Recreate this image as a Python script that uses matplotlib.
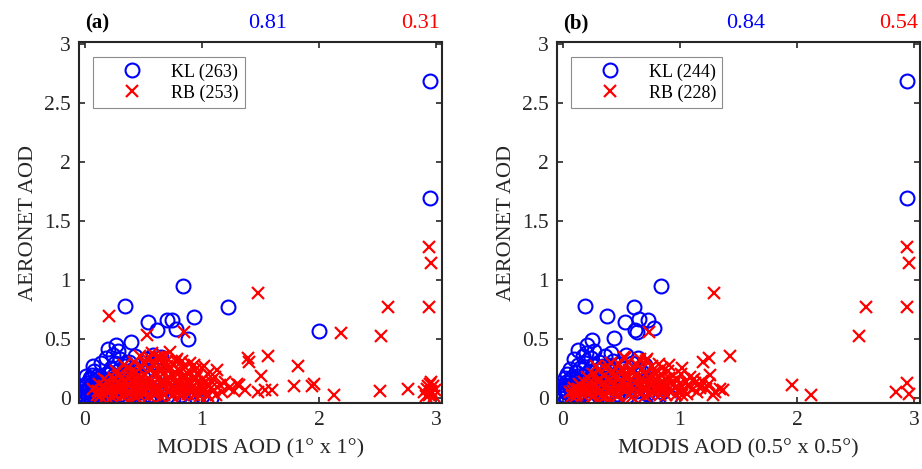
import matplotlib
matplotlib.use('Agg')
import matplotlib.pyplot as plt

plt.rcParams['font.family'] = ['Liberation Serif', 'DejaVu Serif']

# ---- data ----
# panel (a): 1 deg x 1 deg
kl_a = [(0.00, 0.02), (0.01, 0.05), (0.02, 0.08), (0.03, 0.03), (0.04, 0.10), (0.05, 0.06), (0.06, 0.12),
        (0.07, 0.02), (0.08, 0.08), (0.09, 0.15), (0.10, 0.04), (0.11, 0.11), (0.12, 0.07), (0.13, 0.18),
        (0.14, 0.02), (0.15, 0.09), (0.02, 0.13), (0.04, 0.17), (0.06, 0.20), (0.08, 0.23), (0.10, 0.19),
        (0.12, 0.14), (0.03, 0.00), (0.05, 0.01), (0.09, 0.00), (0.16, 0.05), (0.17, 0.13), (0.18, 0.21),
        (0.19, 0.03), (0.20, 0.10), (0.21, 0.16), (0.22, 0.26), (0.23, 0.06), (0.24, 0.12), (0.25, 0.20),
        (0.26, 0.30), (0.27, 0.08), (0.28, 0.15), (0.29, 0.24), (0.30, 0.33), (0.31, 0.04), (0.32, 0.11),
        (0.33, 0.19), (0.34, 0.27), (0.35, 0.07), (0.36, 0.14), (0.37, 0.22), (0.38, 0.31), (0.39, 0.03),
        (0.40, 0.17), (0.41, 0.25), (0.42, 0.09), (0.43, 0.36), (0.44, 0.20), (0.45, 0.00), (0.46, 0.13),
        (0.47, 0.28), (0.48, 0.05), (0.50, 0.18), (0.52, 0.33), (0.53, 0.10), (0.55, 0.24), (0.56, 0.03),
        (0.58, 0.37), (0.60, 0.15), (0.62, 0.30), (0.63, 0.07), (0.65, 0.35), (0.67, 0.20), (0.70, 0.02),
        (0.72, 0.12), (0.75, 0.00), (0.78, 0.06), (0.82, 0.03), (0.90, 0.05), (1.00, 0.02), (1.08, 0.00),
        (0.14, 0.30), (0.18, 0.34), (0.24, 0.37), (0.28, 0.40), (0.07, 0.27), (0.01, 0.19),
        (0.01, 0.11), (0.03, 0.07), (0.05, 0.16), (0.07, 0.05), (0.09, 0.10), (0.11, 0.02), (0.13, 0.06),
        (0.15, 0.14), (0.17, 0.01), (0.19, 0.08), (0.21, 0.22), (0.23, 0.14), (0.26, 0.04), (0.31, 0.20),
        (0.35, 0.30), (0.40, 0.05), (0.50, 0.01), (0.60, 0.01), (0.65, 0.04), (0.95, 0.01),
        (0.20, 0.42), (0.27, 0.45), (0.34, 0.78), (0.39, 0.48), (0.54, 0.65), (0.62, 0.58), (0.70, 0.66),
        (0.74, 0.66), (0.78, 0.59), (0.84, 0.95), (0.88, 0.50), (0.93, 0.69), (1.22, 0.77), (2.00, 0.57),
        (2.95, 1.70), (2.95, 2.69)]

rb_a = [(0.07, 0.08), (0.10, 0.03), (0.12, 0.12), (0.14, 0.06), (0.16, 0.10), (0.18, 0.02), (0.19, 0.15),
        (0.21, 0.07), (0.22, 0.11), (0.24, 0.04), (0.25, 0.17), (0.26, 0.09), (0.28, 0.13), (0.29, 0.05),
        (0.30, 0.21), (0.31, 0.10), (0.32, 0.02), (0.33, 0.15), (0.35, 0.08), (0.36, 0.26), (0.37, 0.12),
        (0.38, 0.04), (0.39, 0.19), (0.40, 0.09), (0.41, 0.14), (0.42, 0.31), (0.43, 0.06), (0.44, 0.22),
        (0.45, 0.11), (0.46, 0.03), (0.47, 0.17), (0.48, 0.27), (0.49, 0.08), (0.50, 0.13), (0.51, 0.20),
        (0.52, 0.05), (0.53, 0.33), (0.54, 0.10), (0.55, 0.16), (0.56, 0.24), (0.57, 0.07), (0.58, 0.29),
        (0.59, 0.12), (0.60, 0.03), (0.61, 0.19), (0.62, 0.35), (0.63, 0.09), (0.64, 0.14), (0.65, 0.26),
        (0.66, 0.05), (0.67, 0.21), (0.68, 0.11), (0.69, 0.31), (0.70, 0.16), (0.71, 0.07), (0.72, 0.24),
        (0.73, 0.13), (0.74, 0.02), (0.75, 0.19), (0.76, 0.28), (0.77, 0.09), (0.78, 0.15), (0.79, 0.33),
        (0.80, 0.06), (0.81, 0.22), (0.82, 0.12), (0.83, 0.18), (0.84, 0.04), (0.85, 0.27), (0.86, 0.10),
        (0.87, 0.15), (0.88, 0.21), (0.89, 0.07), (0.90, 0.30), (0.91, 0.12), (0.92, 0.17), (0.93, 0.03),
        (0.94, 0.24), (0.95, 0.09), (0.96, 0.14), (0.97, 0.20), (0.98, 0.06), (0.99, 0.11), (1.00, 0.26),
        (1.01, 0.16), (1.02, 0.08), (1.03, 0.13), (1.04, 0.04), (1.05, 0.21), (1.06, 0.10), (1.08, 0.15),
        (1.10, 0.07), (1.11, 0.18), (1.13, 0.24), (1.15, 0.11), (1.17, 0.05), (1.20, 0.14), (1.23, 0.09),
        (1.27, 0.06), (1.30, 0.12), (0.23, 0.01), (0.34, 0.03), (0.44, 0.01), (0.55, 0.02), (0.65, 0.01),
        (0.27, 0.23), (0.33, 0.28), (0.47, 0.36), (0.57, 0.38), (0.67, 0.36), (0.73, 0.39), (0.83, 0.32),
        (0.93, 0.28), (0.78, 0.32), (0.56, 0.34), (0.64, 0.35), (1.02, 0.27),
        (0.13, 0.02), (0.17, 0.07), (0.20, 0.13), (0.23, 0.09), (0.27, 0.03), (0.30, 0.07), (0.32, 0.18),
        (0.36, 0.05), (0.38, 0.16), (0.40, 0.23), (0.42, 0.02), (0.45, 0.07), (0.47, 0.12), (0.50, 0.04),
        (0.51, 0.29), (0.53, 0.15), (0.56, 0.10), (0.58, 0.05), (0.60, 0.22), (0.62, 0.06), (0.63, 0.17),
        (0.66, 0.13), (0.68, 0.03), (0.70, 0.27), (0.71, 0.11), (0.74, 0.08), (0.76, 0.04), (0.77, 0.22),
        (0.79, 0.12), (0.81, 0.03), (0.84, 0.09), (0.86, 0.19), (0.88, 0.04), (0.91, 0.08), (0.95, 0.17),
        (0.98, 0.02), (1.01, 0.05), (1.05, 0.02), (1.08, 0.09), (1.12, 0.03), (0.11, 0.06), (0.16, 0.16),
        (0.28, 0.19), (0.44, 0.17), (0.59, 0.27), (0.66, 0.31), (0.72, 0.18), (0.88, 0.14),
        (0.21, 0.70), (0.53, 0.54), (0.85, 0.56), (1.48, 0.89), (1.39, 0.34), (1.40, 0.31), (1.56, 0.36),
        (1.50, 0.19), (1.32, 0.11), (1.37, 0.07), (1.48, 0.05), (1.54, 0.07), (1.60, 0.07), (1.82, 0.27),
        (1.79, 0.10), (1.94, 0.10), (1.96, 0.12), (2.13, 0.03), (2.19, 0.55), (2.53, 0.53), (2.52, 0.06),
        (2.59, 0.77), (2.76, 0.08), (2.94, 0.77), (2.94, 1.28), (2.96, 1.15),
        (2.90, 0.05), (2.92, 0.08), (2.94, 0.03), (2.95, 0.12), (2.96, 0.06), (2.97, 0.10), (2.98, 0.02),
        (2.96, 0.14), (2.93, 0.10), (2.99, 0.07), (2.95, 0.04), (2.91, 0.02)]

# panel (b): 0.5 deg x 0.5 deg
kl_b = [(0.00, 0.03), (0.01, 0.07), (0.02, 0.11), (0.03, 0.01), (0.04, 0.05), (0.05, 0.14), (0.06, 0.09),
        (0.07, 0.02), (0.08, 0.18), (0.09, 0.06), (0.10, 0.12), (0.11, 0.22), (0.12, 0.03), (0.13, 0.09),
        (0.14, 0.15), (0.15, 0.26), (0.16, 0.05), (0.17, 0.11), (0.18, 0.19), (0.19, 0.30), (0.20, 0.08),
        (0.21, 0.14), (0.22, 0.23), (0.23, 0.02), (0.24, 0.34), (0.25, 0.17), (0.26, 0.10), (0.27, 0.27),
        (0.28, 0.05), (0.29, 0.20), (0.30, 0.13), (0.31, 0.31), (0.32, 0.08), (0.33, 0.24), (0.34, 0.16),
        (0.35, 0.03), (0.36, 0.36), (0.37, 0.11), (0.38, 0.21), (0.39, 0.28), (0.40, 0.06), (0.42, 0.17),
        (0.43, 0.32), (0.44, 0.12), (0.45, 0.24), (0.46, 0.04), (0.48, 0.19), (0.49, 0.29), (0.50, 0.09),
        (0.52, 0.15), (0.53, 0.26), (0.55, 0.02), (0.56, 0.21), (0.58, 0.11), (0.59, 0.30), (0.61, 0.17),
        (0.63, 0.06), (0.64, 0.25), (0.66, 0.13), (0.68, 0.22), (0.70, 0.28), (0.72, 0.04), (0.75, 0.16),
        (0.80, 0.02), (0.85, 0.05), (0.92, 0.01), (0.02, 0.17), (0.04, 0.21), (0.06, 0.25), (0.03, 0.14),
        (0.07, 0.10), (0.09, 0.01), (0.11, 0.16), (0.13, 0.28), (0.17, 0.36), (0.10, 0.33), (0.20, 0.38),
        (0.27, 0.40),
        (0.01, 0.09), (0.03, 0.05), (0.05, 0.11), (0.07, 0.16), (0.08, 0.04), (0.10, 0.07), (0.12, 0.19),
        (0.14, 0.01), (0.16, 0.13), (0.18, 0.04), (0.22, 0.11), (0.24, 0.07), (0.26, 0.22), (0.30, 0.03),
        (0.34, 0.27), (0.41, 0.10), (0.47, 0.14), (0.51, 0.05), (0.57, 0.08), (0.67, 0.02),
        (0.13, 0.41), (0.21, 0.45), (0.25, 0.49), (0.19, 0.78), (0.38, 0.70), (0.44, 0.51), (0.53, 0.65),
        (0.61, 0.77), (0.62, 0.58), (0.63, 0.56), (0.65, 0.67), (0.73, 0.66), (0.78, 0.60), (0.84, 0.95),
        (0.64, 0.34), (0.54, 0.37), (0.41, 0.38), (0.46, 0.01), (2.94, 1.70), (2.94, 2.69)]

rb_b = [(0.06, 0.05), (0.08, 0.02), (0.10, 0.09), (0.12, 0.04), (0.14, 0.12), (0.15, 0.07), (0.17, 0.03),
        (0.18, 0.14), (0.20, 0.08), (0.21, 0.18), (0.23, 0.05), (0.24, 0.11), (0.26, 0.21), (0.27, 0.02),
        (0.29, 0.15), (0.30, 0.09), (0.31, 0.24), (0.33, 0.06), (0.34, 0.13), (0.35, 0.19), (0.37, 0.03),
        (0.38, 0.10), (0.39, 0.27), (0.40, 0.16), (0.42, 0.07), (0.43, 0.22), (0.44, 0.12), (0.45, 0.04),
        (0.47, 0.18), (0.48, 0.29), (0.49, 0.09), (0.50, 0.14), (0.51, 0.25), (0.53, 0.06), (0.54, 0.20),
        (0.55, 0.11), (0.56, 0.31), (0.57, 0.03), (0.58, 0.16), (0.60, 0.23), (0.61, 0.08), (0.62, 0.13),
        (0.63, 0.28), (0.64, 0.05), (0.65, 0.19), (0.67, 0.10), (0.68, 0.25), (0.69, 0.15), (0.70, 0.02),
        (0.71, 0.21), (0.72, 0.08), (0.74, 0.17), (0.75, 0.12), (0.76, 0.27), (0.77, 0.05), (0.78, 0.14),
        (0.79, 0.22), (0.80, 0.09), (0.81, 0.18), (0.83, 0.03), (0.84, 0.13), (0.85, 0.20), (0.86, 0.07),
        (0.87, 0.16), (0.89, 0.11), (0.90, 0.23), (0.92, 0.05), (0.93, 0.14), (0.94, 0.19), (0.96, 0.09),
        (0.97, 0.03), (0.98, 0.16), (1.00, 0.12), (1.01, 0.21), (1.03, 0.07), (1.05, 0.14), (1.06, 0.04),
        (1.09, 0.18), (1.11, 0.08), (1.13, 0.13), (1.15, 0.05), (1.22, 0.08), (1.25, 0.12), (1.28, 0.03),
        (0.25, 0.01), (0.36, 0.01), (0.46, 0.02), (0.59, 0.01), (0.66, 0.33), (0.52, 0.35), (0.41, 0.30),
        (0.36, 0.26), (0.82, 0.29),
        (0.09, 0.06), (0.11, 0.02), (0.13, 0.08), (0.16, 0.10), (0.19, 0.05), (0.22, 0.13), (0.25, 0.07),
        (0.28, 0.11), (0.32, 0.16), (0.33, 0.02), (0.36, 0.09), (0.39, 0.05), (0.41, 0.13), (0.44, 0.19),
        (0.46, 0.08), (0.48, 0.03), (0.50, 0.21), (0.52, 0.10), (0.55, 0.16), (0.57, 0.24), (0.59, 0.06),
        (0.62, 0.19), (0.64, 0.11), (0.66, 0.04), (0.67, 0.16), (0.70, 0.09), (0.73, 0.13), (0.74, 0.04),
        (0.77, 0.19), (0.80, 0.15), (0.82, 0.07), (0.85, 0.10), (0.88, 0.03), (0.91, 0.17), (0.95, 0.12),
        (0.99, 0.07), (1.02, 0.03), (1.07, 0.10), (1.12, 0.16), (1.17, 0.09),
        (0.74, 0.56), (1.29, 0.89), (1.43, 0.36), (1.25, 0.34), (1.20, 0.31), (1.26, 0.20), (1.02, 0.26),
        (1.19, 0.15), (1.18, 0.10), (1.34, 0.08), (1.30, 0.05), (1.37, 0.07), (1.08, 0.10), (0.91, 0.28),
        (0.85, 0.26), (0.71, 0.32), (0.28, 0.27), (0.53, 0.34), (0.72, 0.33), (1.96, 0.11), (2.12, 0.03),
        (2.53, 0.53), (2.59, 0.77), (2.94, 0.77), (2.94, 1.28), (2.96, 1.15), (2.85, 0.05), (2.94, 0.13),
        (2.96, 0.04)]

panels = [
    dict(kl=kl_a, rb=rb_a, tag='(a)', r_kl='0.81', r_rb='0.31', n_kl=263, n_rb=253,
         xlabel='MODIS AOD (1° x 1°)'),
    dict(kl=kl_b, rb=rb_b, tag='(b)', r_kl='0.84', r_rb='0.54', n_kl=244, n_rb=228,
         xlabel='MODIS AOD (0.5° x 0.5°)'),
]

fig = plt.figure(figsize=(9.22, 4.69), dpi=100)
lefts = [0.0857, 0.604]

for left, p in zip(lefts, panels):
    ax = fig.add_axes([left, 0.1407, 0.3937, 0.7697])
    kx, ky = zip(*p['kl'])
    rx, ry = zip(*p['rb'])
    ax.plot(kx, ky, 'o', ms=10, mfc='none', mec='blue', mew=1.5, ls='none',
            label=f"KL ({p['n_kl']})")
    ax.plot(rx, ry, 'x', ms=8.5, color='red', mew=1.6, ls='none',
            label=f"RB ({p['n_rb']})")

    ax.set_xlim(-0.05, 3.05)
    ax.set_ylim(-0.04, 3.02)
    ax.set_xticks([0, 1, 2, 3])
    ax.set_yticks([0, 0.5, 1, 1.5, 2, 2.5, 3])
    ax.set_yticklabels(['0', '0.5', '1', '1.5', '2', '2.5', '3'])
    ax.tick_params(direction='in', top=True, right=True, length=4, width=1.2,
                   labelsize=15.5, colors='#262626', pad=6)
    for s in ax.spines.values():
        s.set_linewidth(1.5)
        s.set_color('#262626')

    ax.set_xlabel(p['xlabel'], fontsize=16, color='#262626', labelpad=6)
    ax.set_ylabel('AERONET AOD', fontsize=16, color='#262626', labelpad=4)

    ax.text(0.017, 1.05, p['tag'], transform=ax.transAxes, fontsize=15,
            fontweight='bold', ha='left', va='center')
    ax.text(0.52, 1.05, p['r_kl'], transform=ax.transAxes, fontsize=16,
            color='blue', ha='center', va='center')
    ax.text(0.942, 1.05, p['r_rb'], transform=ax.transAxes, fontsize=16,
            color='red', ha='center', va='center')

    leg = ax.legend(loc='upper left', bbox_to_anchor=(0.039, 0.958), borderaxespad=0,
                    fontsize=13, handlelength=3.6, handletextpad=0.35, labelspacing=0.2,
                    borderpad=0.35, fancybox=False, framealpha=1)
    leg.get_frame().set_edgecolor('#8c8c8c')
    leg.get_frame().set_linewidth(0.8)

plt.savefig('out.png', dpi=100)
plt.close()
